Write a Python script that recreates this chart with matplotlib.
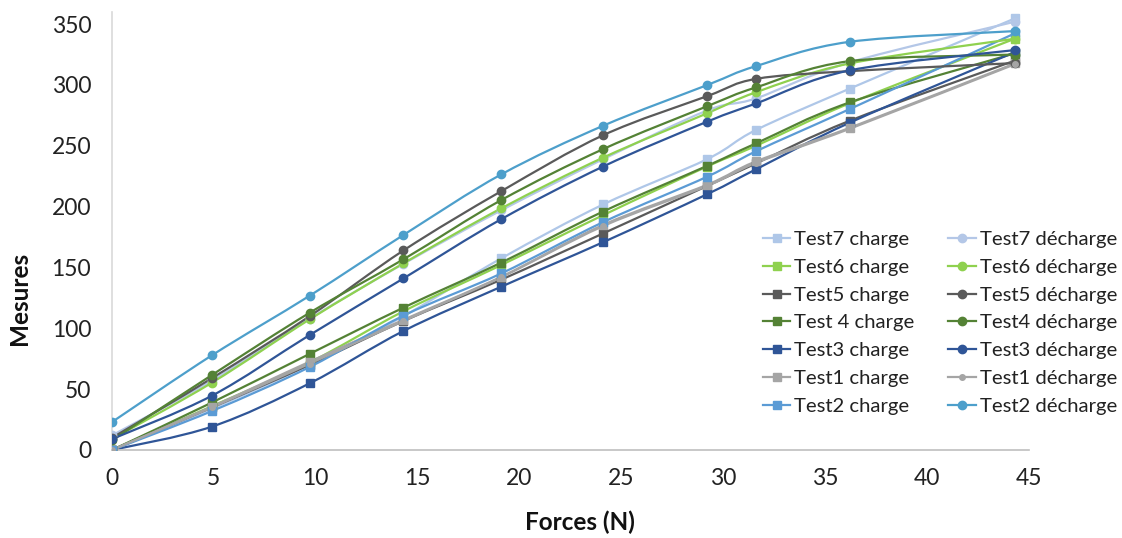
import matplotlib
matplotlib.use("Agg")
import matplotlib.pyplot as plt
from matplotlib.path import Path
from matplotlib.patches import PathPatch
from matplotlib.lines import Line2D
import numpy as np

plt.rcParams['font.family'] = ['Lato', 'DejaVu Sans']

# ---- data ----
forces = [0, 4.9, 9.7, 14.3, 19.1, 24.1, 29.2, 31.6, 36.2, 44.3]

test7_charge = [0, 34, 70, 110, 157.5, 201.8, 239, 263, 297, 354.7]
test7_decharge = [12, 57, 108, 153, 197, 239, 279, 289, 318.6, 352]
test6_charge = [0, 36, 72, 114, 152, 193, 233, 250, 285, 338]
test6_decharge = [9, 55.3, 107.4, 153.4, 198.6, 240.3, 276.7, 294, 317.7, 338]
test5_charge = [0, 35, 70, 106, 140, 178, 217, 235.5, 270.6, 320]
test5_decharge = [10, 59, 110, 164, 212.7, 258.7, 290.8, 305, 311.4, 318]
test4_charge = [0, 39, 79, 117, 154, 196, 233.5, 252, 285.7, 326]
test4_decharge = [8, 61.6, 112.8, 156.7, 205.4, 247.3, 282.5, 298, 319.6, 325]
test3_charge = [0, 19.2, 54.8, 97.8, 134.2, 170.8, 210.2, 230.7, 269, 327]
test3_decharge = [9, 44.6, 94.5, 141, 189.7, 233, 269.8, 284.8, 312, 328.7]
test1_charge = [0, 35.6, 72.6, 107, 142.4, 185, 218, 237.2, 264.8, 317.7]
test1_decharge = [0, 35, 71, 106, 142, 184, 217, 236, 264, 317]
test2_charge = [0, 32, 68.2, 110.4, 145.1, 187.3, 224.6, 245.5, 280.2, 342.4]
test2_decharge = [23, 77.8, 126.8, 176.7, 226.5, 266.5, 299.9, 315.5, 335.5, 344.3]

labels_charge = ["Test7 charge", "Test6 charge", "Test5 charge", "Test 4 charge",
                 "Test3 charge", "Test1 charge", "Test2 charge"]
labels_decharge = ["Test7 décharge", "Test6 décharge", "Test5 décharge", "Test4 décharge",
                   "Test3 décharge", "Test1 décharge", "Test2 décharge"]
charge_values = [test7_charge, test6_charge, test5_charge, test4_charge,
                 test3_charge, test1_charge, test2_charge]
decharge_values = [test7_decharge, test6_decharge, test5_decharge, test4_decharge,
                   test3_decharge, test1_decharge, test2_decharge]
colors = ["#AFC7E8", "#8FD14F", "#5A5A5A", "#548235", "#2F5597", "#A5A5A5", "#5B9BD5"]
colors_dech = ["#B4C7E7", "#8FD14F", "#5A5A5A", "#548235", "#2F5597", "#A5A5A5", "#4D9FCB"]
dech_msize = [6, 6, 6, 6, 6, 4, 6]


def smooth_path(xs, ys, t=1.0 / 6.0):
    xs = np.asarray(xs, float)
    ys = np.asarray(ys, float)
    n = len(xs)
    verts = [(xs[0], ys[0])]
    codes = [Path.MOVETO]
    for i in range(n - 1):
        p0 = np.array([xs[max(i - 1, 0)], ys[max(i - 1, 0)]])
        p1 = np.array([xs[i], ys[i]])
        p2 = np.array([xs[i + 1], ys[i + 1]])
        p3 = np.array([xs[min(i + 2, n - 1)], ys[min(i + 2, n - 1)]])
        c1 = p1 + (p2 - p0) * t
        c2 = p2 - (p3 - p1) * t
        verts += [tuple(c1), tuple(c2), tuple(p2)]
        codes += [Path.CURVE4] * 3
    return Path(verts, codes)


fig = plt.figure(figsize=(11.22, 5.38), dpi=100)
ax = fig.add_axes([112 / 1122, 1 - 450 / 538, (1029 - 112) / 1122, (450 - 12) / 538])

handles_c, handles_d = [], []
for lab, vals, col in zip(labels_charge, charge_values, colors):
    ax.add_patch(PathPatch(smooth_path(forces, vals), fill=False, edgecolor=col, lw=1.6, zorder=2))
    ax.plot(forces, vals, ls='none', marker='s', ms=6, color=col, zorder=3)
    handles_c.append(Line2D([], [], color=col, lw=1.6, marker='s', ms=6, label=lab))
for lab, vals, col, ms in zip(labels_decharge, decharge_values, colors_dech, dech_msize):
    ax.add_patch(PathPatch(smooth_path(forces, vals), fill=False, edgecolor=col, lw=1.6, zorder=2))
    ax.plot(forces, vals, ls='none', marker='o', ms=ms, color=col, zorder=3)
    handles_d.append(Line2D([], [], color=col, lw=1.6, marker='o', ms=ms, label=lab))

ax.set_xlim(0, 45)
ax.set_ylim(0, 360)
ax.set_xticks(range(0, 46, 5))
ax.set_yticks(range(0, 351, 50))
ax.tick_params(length=0, labelsize=16.5, colors='#222222', pad=13)
ax.tick_params(axis='y', pad=15)
for s in ['top', 'right']:
    ax.spines[s].set_visible(False)
ax.spines['left'].set_color('#D9D9D9')
ax.spines['bottom'].set_color('#BFBFBF')
ax.spines['left'].set_linewidth(1.2)
ax.spines['bottom'].set_linewidth(1.2)

fig.text(20 / 1122, 1 - 298 / 538, "Mesures", rotation=90, ha='center', va='center',
         fontsize=17.5, fontweight='bold', color='#111111')
fig.text(580 / 1122, 1 - 522 / 538, "Forces (N)", ha='center', va='center',
         fontsize=17.5, fontweight='bold', color='#111111')

leg = fig.legend(handles=handles_c + handles_d, ncol=2, loc='upper left',
                 bbox_to_anchor=(763 / 1122, 1 - 231 / 538), frameon=False,
                 fontsize=14.6, handlelength=1.35, handletextpad=0.2, labelspacing=0.52,
                 columnspacing=1.65, borderaxespad=0, borderpad=0)
for t in leg.get_texts():
    t.set_color('#222222')

fig.savefig("out.png", dpi=100)
